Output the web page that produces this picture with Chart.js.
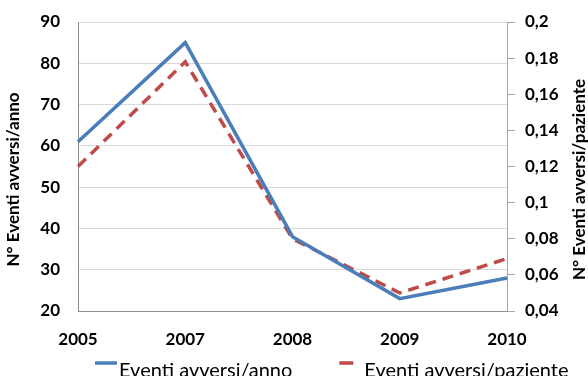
<!DOCTYPE html>
<html>
<head>
<meta charset="utf-8">
<script src="https://cdn.jsdelivr.net/npm/chart.js@4.4.0/dist/chart.umd.min.js"></script>
<style>
  html, body { margin: 0; padding: 0; background: #fff; overflow: hidden; }
  #wrap { width: 588px; height: 376px; }
</style>
</head>
<body>
<div id="wrap"><canvas id="chart"></canvas></div>
<script>
const anni = ['2005', '2007', '2008', '2009', '2010'];
const eventiAnno = [61, 85, 38, 23, 28];
const eventiPaziente = [0.12, 0.178, 0.08, 0.05, 0.069];
const titoloSx = 'N° Eventi avversi/anno';
const titoloDx = 'N° Eventi avversi/paziente';

const font = { family: 'Lato', size: 17, weight: 'bold' };

const data = {
    labels: anni,
    datasets: [{
        label: 'Eventi avversi/anno',
        data: eventiAnno,
        yAxisID: 'y',
        borderColor: '#4a7ebb',
        borderWidth: 3.5,
        pointRadius: 0,
        tension: 0
    }, {
        label: 'Eventi avversi/paziente',
        data: eventiPaziente,
        yAxisID: 'y1',
        borderColor: '#be4b48',
        borderWidth: 3.5,
        borderDash: [11, 7],
        pointRadius: 0,
        tension: 0
    }]
}

// titoli assi (entrambi letti dal basso verso l'alto) e legenda in fondo
const extras = {
    id: 'extras',
    afterDraw(c) {
        const ctx = c.ctx;
        const a = c.chartArea;
        const cy = (a.top + a.bottom) / 2 + 13;
        ctx.save();
        ctx.fillStyle = '#000';
        ctx.font = 'bold 17px Lato';
        ctx.textAlign = 'center';
        ctx.textBaseline = 'middle';
        [[14, titoloSx], [580, titoloDx]].forEach(([x, t]) => {
            ctx.save();
            ctx.translate(x, cy);
            ctx.rotate(-Math.PI / 2);
            ctx.fillText(t, 0, 0);
            ctx.restore();
        });

        // legenda (tagliata in basso come nell'originale)
        const yLinea = 363;
        let x = 95;
        ctx.font = '20px Lato';
        ctx.textAlign = 'left';
        ctx.textBaseline = 'alphabetic';
        c.data.datasets.forEach(ds => {
            const tratteggio = !!ds.borderDash;
            const len = tratteggio ? 14 : 22;
            ctx.strokeStyle = ds.borderColor;
            ctx.lineWidth = 3.5;
            ctx.beginPath();
            ctx.moveTo(x, yLinea);
            ctx.lineTo(x + len, yLinea);
            ctx.stroke();
            x += len + (tratteggio ? 11 : 2);
            ctx.fillText(ds.label, x, 377);
            x += ctx.measureText(ds.label).width + 47;
        });
        ctx.restore();
    }
};

function fitVert(width) {
    return axis => {
        axis.width = width;
        axis.paddingTop = 0;
        axis.paddingBottom = 0;
    };
}

const config = {
    type: 'line',
    data,
    plugins: [extras],
    options: {
        responsive: true,
        maintainAspectRatio: false,
        animation: false,
        layout: {
            padding: { top: 22, right: 0, bottom: 27, left: 0 }
        },
        plugins: {
            tooltip: { enabled: false },
            legend: { display: false }
        },
        scales: {
            x: {
                offset: false,
                grid: { display: false, drawTicks: false },
                border: { display: true, color: '#8c8c8c' },
                ticks: { color: '#000', font, padding: 18, maxRotation: 0 },
                afterFit(axis) { axis.height = 38; }
            },
            y: {
                position: 'left',
                min: 20, max: 90,
                ticks: { stepSize: 10, color: '#000', font, padding: 18 },
                grid: { color: '#d9d9d9', drawTicks: false },
                border: { display: true, color: '#8c8c8c' },
                afterFit: fitVert(78)
            },
            y1: {
                position: 'right',
                min: 0.04, max: 0.2,
                ticks: {
                    stepSize: 0.02, color: '#000', font, padding: 10,
                    callback: v => String(Math.round(v * 100) / 100).replace('.', ',')
                },
                grid: { drawOnChartArea: false, drawTicks: true, tickLength: 8, color: '#a6a6a6' },
                border: { display: true, color: '#a6a6a6' },
                afterFit: fitVert(81)
            }
        }
    }
}

var chart = document.getElementById('chart');
var myChart = new Chart(chart, config);
</script>
</body>
</html>
